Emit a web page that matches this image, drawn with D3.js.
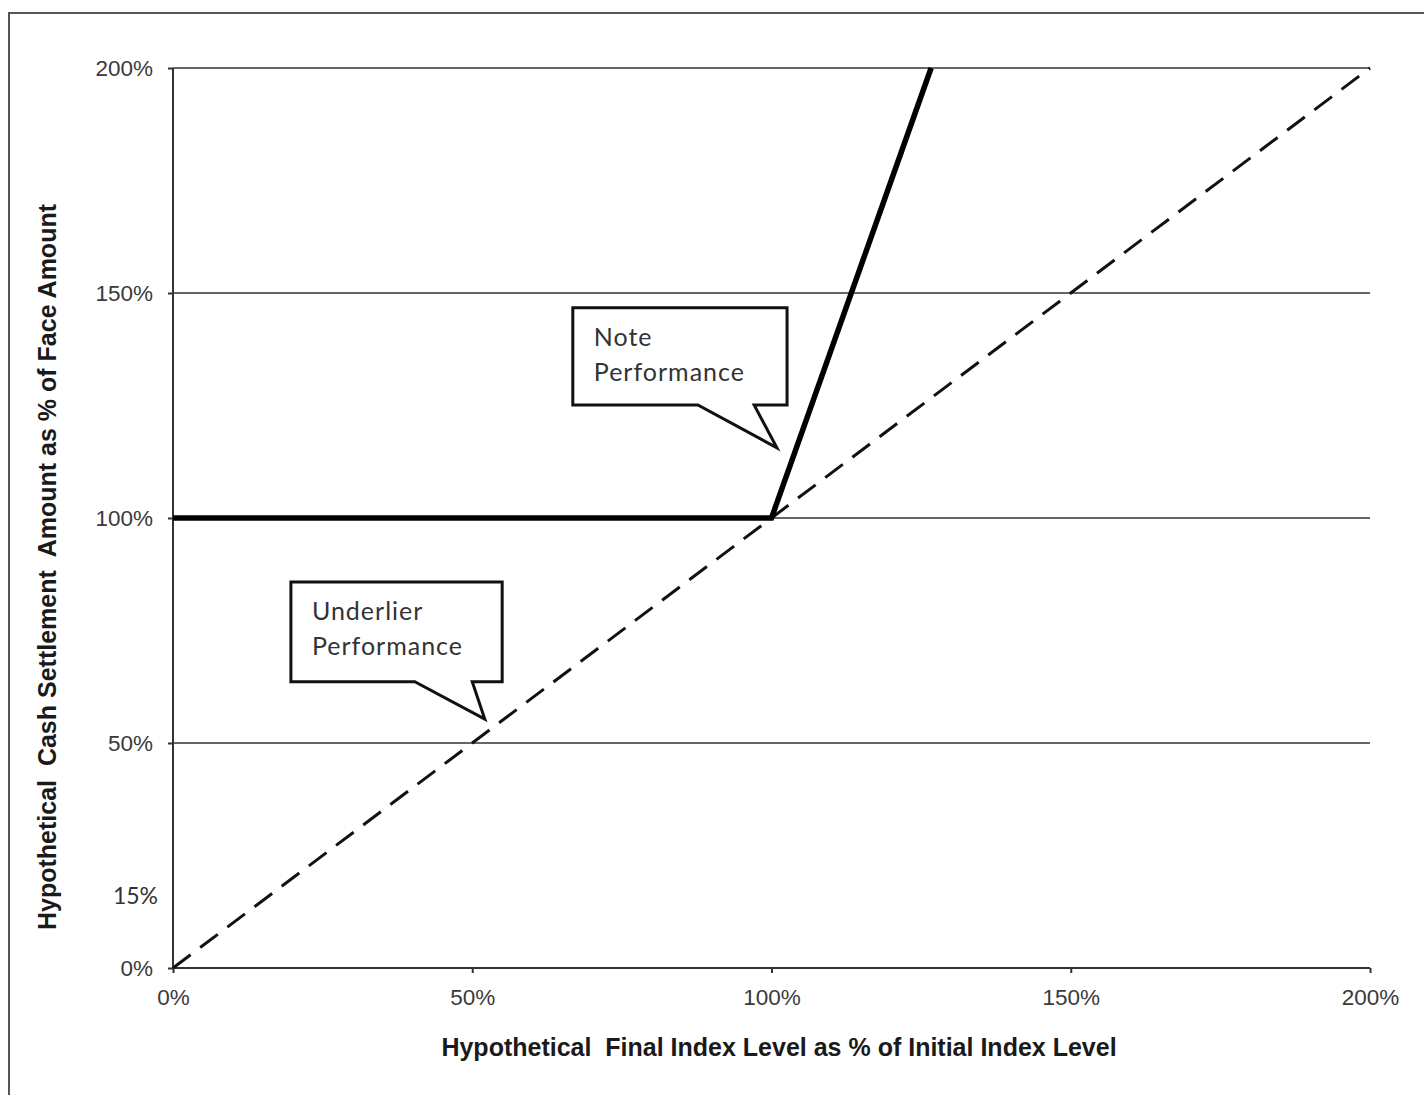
<!DOCTYPE html>
<html lang="en">
<head>
    <meta charset="UTF-8">
    <script src="https://cdnjs.cloudflare.com/ajax/libs/d3/7.8.5/d3.min.js"></script>
    <style>
        body { margin: 0; background: #fff; }
        path.domain { stroke: none; }
        .tick > line { stroke: #333; }
        .tick > text { fill: #3a3a3a; font-family: Arial, "Liberation Sans", sans-serif; font-size: 22.5px; }
        .axis-title { font-family: Arial, "Liberation Sans", sans-serif; font-weight: bold; font-size: 25px; fill: #1a1a1a; }
        .callout text { font-family: Lato, "Open Sans", sans-serif; font-size: 25px; letter-spacing: 1px; fill: #333; }
    </style>
</head>
<body>
    <svg id="chart" width="1424" height="1095"></svg>
    <script>
        // values in percent
        const xTicks = [0, 50, 100, 150, 200];
        const yTicks = [0, 50, 100, 150, 200];
        const gridValues = [50, 100, 150, 200];
        const extraYLabel = { value: 16, text: '15%' };

        const underlierX = [0, 200];
        const underlierY = [0, 200];
        const noteX = [0, 100, 126.67];
        const noteY = [100, 100, 200];

        // callout boxes, in data units: box corners, tail base and tip
        const callouts = [
            { lines: ['Note', 'Performance'], x0: 66.8, x1: 102.6, y0: 146.7, y1: 125.1, tailA: 87.7, tailB: 97.1, tipX: 100.9, tipY: 115.6 },
            { lines: ['Underlier', 'Performance'], x0: 19.7, x1: 55.0, y0: 85.8, y1: 63.6, tailA: 40.4, tailB: 50.0, tipX: 52.1, tipY: 55.3 }
        ];

        const svg = d3.select('#chart');

        // outer frame (only left and top edges fall inside the image)
        svg.append('path')
            .attr('d', 'M9,1100 L9,13 L1430,13')
            .attr('fill', 'none')
            .attr('stroke', '#555')
            .attr('stroke-width', 2);

        const xScale = d3.scaleLinear().domain([0, 200]).range([173, 1370]);
        const yScale = d3.scaleLinear().domain([0, 200]).range([968, 68]);

        // gridlines
        svg.append('g').selectAll('line')
            .data(gridValues)
            .enter().append('line')
            .attr('x1', xScale(0)).attr('x2', xScale(200))
            .attr('y1', d => yScale(d)).attr('y2', d => yScale(d))
            .attr('stroke', '#333').attr('stroke-width', 1.5);

        // axis lines
        svg.append('line')
            .attr('x1', xScale(0)).attr('x2', xScale(0))
            .attr('y1', yScale(0)).attr('y2', yScale(200))
            .attr('stroke', '#333').attr('stroke-width', 2);
        svg.append('line')
            .attr('x1', xScale(0)).attr('x2', xScale(200))
            .attr('y1', yScale(0)).attr('y2', yScale(0))
            .attr('stroke', '#333').attr('stroke-width', 2);

        const xAxis = d3.axisBottom(xScale)
            .tickValues(xTicks)
            .tickSize(5)
            .tickPadding(16)
            .tickFormat(d => d + '%');
        svg.append('g').attr('id', 'xAxisG')
            .attr('transform', `translate(0,${yScale(0)})`)
            .call(xAxis);

        const yAxis = d3.axisLeft(yScale)
            .tickValues(yTicks)
            .tickSize(5)
            .tickPadding(15)
            .tickFormat(d => d + '%');
        svg.append('g').attr('id', 'yAxisG')
            .attr('transform', `translate(${xScale(0)},0)`)
            .call(yAxis);

        svg.selectAll('.tick line').attr('stroke-width', 2);

        // odd 15% label in a different font
        svg.append('text')
            .attr('x', xScale(0) - 15)
            .attr('y', yScale(extraYLabel.value))
            .attr('dy', '0.35em')
            .attr('text-anchor', 'end')
            .style('font-family', 'Lato, "Open Sans", sans-serif')
            .style('font-size', '23px')
            .style('fill', '#333')
            .text(extraYLabel.text);

        // underlier (dashed)
        const line = d3.line().x(d => xScale(d[0])).y(d => yScale(d[1]));
        svg.append('path')
            .attr('d', line(d3.zip(underlierX, underlierY)))
            .attr('fill', 'none')
            .attr('stroke', '#111')
            .attr('stroke-width', 3)
            .attr('stroke-dasharray', '22,12');

        // note (thick)
        svg.append('path')
            .attr('d', line(d3.zip(noteX, noteY)))
            .attr('fill', 'none')
            .attr('stroke', '#000')
            .attr('stroke-width', 5.5)
            .attr('stroke-linejoin', 'miter');

        // callouts
        callouts.forEach(c => {
            const g = svg.append('g').attr('class', 'callout');
            const pts = [
                [c.x0, c.y0], [c.x1, c.y0], [c.x1, c.y1], [c.tailB, c.y1],
                [c.tipX, c.tipY], [c.tailA, c.y1], [c.x0, c.y1]
            ];
            g.append('path')
                .attr('d', line(pts) + 'Z')
                .attr('fill', '#fff')
                .attr('stroke', '#111')
                .attr('stroke-width', 3)
                .attr('stroke-linejoin', 'miter');
            g.selectAll('text')
                .data(c.lines)
                .enter().append('text')
                .attr('x', xScale(c.x0) + 21)
                .attr('y', (d, i) => yScale(c.y0) + 38 + i * 35)
                .text(d => d);
        });

        // axis titles
        svg.append('text')
            .attr('class', 'axis-title')
            .attr('x', 779)
            .attr('y', 1056)
            .attr('text-anchor', 'middle')
            .style('white-space', 'pre')
            .text('Hypothetical  Final Index Level as % of Initial Index Level');

        svg.append('text')
            .attr('class', 'axis-title')
            .attr('transform', 'translate(56,567) rotate(-90)')
            .attr('text-anchor', 'middle')
            .style('white-space', 'pre')
            .text('Hypothetical  Cash Settlement  Amount as % of Face Amount');
    </script>
</body>
</html>
